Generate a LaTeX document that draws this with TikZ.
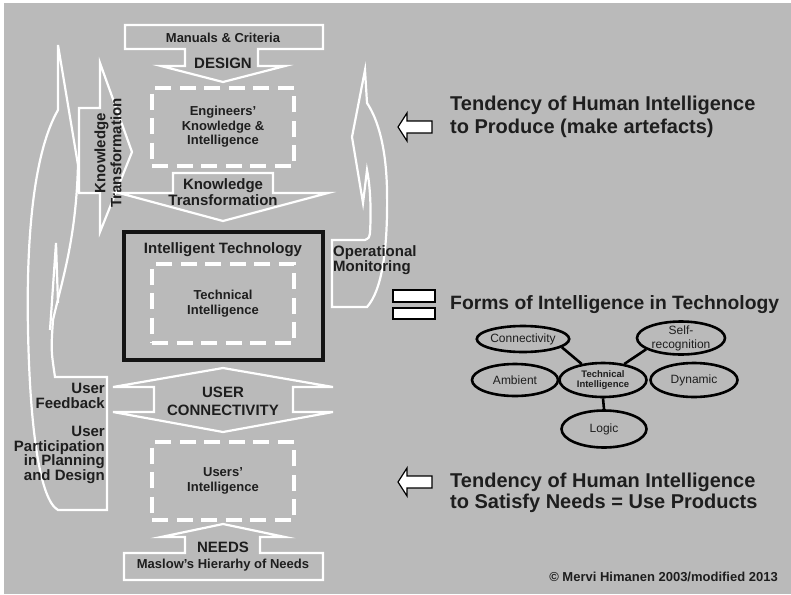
\documentclass[tikz,border=0pt]{standalone}
\usepackage{fontspec}
\setmainfont{Liberation Sans}
\usetikzlibrary{shapes.geometric}
\definecolor{bg}{HTML}{BABABA}
\definecolor{ink}{HTML}{1E1E1E}
\begin{document}
\begin{tikzpicture}[x=1pt,y=-1pt,
  band/.style={draw=white,line width=2.2pt,fill=bg,line join=miter},
  thinline/.style={draw=white,line width=2.2pt},
  dashbox/.style={draw=white,line width=3.2pt,dash pattern=on 16pt off 8.5pt,
    text=ink,font=\bfseries\fontsize{13}{14.5}\selectfont,align=center,inner sep=0pt},
  lbl/.style={text=ink,font=\bfseries\fontsize{15}{16}\selectfont,align=center,inner sep=0pt},
  small/.style={text=ink,font=\bfseries\fontsize{13}{14.5}\selectfont,align=center,inner sep=0pt},
  big/.style={text=ink,font=\bfseries\fontsize{20}{23}\selectfont,align=left,inner sep=0pt,anchor=west},
  oval/.style={ellipse,draw=black,line width=2.6pt,inner sep=0pt,text=ink,
    font=\fontsize{12}{14}\selectfont,align=center},
  hint/.style={draw=black,line width=1.2pt,fill=white,line join=miter},
  link/.style={draw=black,line width=2.6pt},
]
% canvas
\fill[white] (0,0) rectangle (791,594);
\fill[bg] (4,3) rectangle (791,594);
\useasboundingbox (0,0) rectangle (791,594);

% curved feedback band on the left
\draw[band] (58,45) -- (58,110) .. controls (35,150) and (26,230) .. (28,330)
  .. controls (30,430) and (40,500) .. (58,510) -- (107,510) -- (107,377) -- (55,377)
  .. controls (51,350) .. (53,320) .. controls (62,280) and (76,240) .. (78,165) -- cycle;
\draw[thinline] (50,330) -- (56,243) -- (58,303);

% curved monitoring band on the right
\draw[band] (365,70) -- (352,137) -- (363,203) -- (367,170)
  .. controls (371,190) and (371,215) .. (370,233) .. controls (369,238) .. (365,240)
  -- (332,240) -- (332,307) -- (367,307) .. controls (382,290) and (388,250) .. (387,190)
  .. controls (386,140) and (375,115) .. (367,103) -- cycle;

% knowledge transformation, pointing right
\draw[band] (79,108) -- (100,108) -- (100,63) -- (132,152) -- (100,232) -- (100,193) -- (79,193) -- cycle;
\node[lbl,rotate=90] (ktside) at (108,153) {Knowledge\\Transformation};

% design arrow
\draw[band] (125,25) -- (323,25) -- (323,49) -- (258,49) -- (258,66) -- (285,66) -- (223,82)
  -- (161,66) -- (185,66) -- (185,49) -- (125,49) -- cycle;
\node[small] (manuals) at (223,38) {Manuals \& Criteria};
\node[lbl] (design) at (223,63) {DESIGN};

% engineers
\node[dashbox,minimum width=142pt,minimum height=78pt] (eng) at (223,127)
  {Engineers’\\Knowledge \&\\Intelligence};

% knowledge transformation, pointing down
\draw[band] (173,173) -- (273,173) -- (273,193) -- (328,193) -- (223,221) -- (119,193)
  -- (173,193) -- cycle;
\node[lbl] (kt) at (223,192) {Knowledge\\Transformation};

% intelligent technology
\node[draw=black!92,line width=4pt,minimum width=199pt,minimum height=128pt] (itech) at (223.5,296) {};
\node[lbl] (itechlabel) at (223,250) {Intelligent Technology};
\node[dashbox,minimum width=142pt,minimum height=79pt] (techint) at (223,303.5)
  {Technical\\Intelligence};

% user connectivity
\draw[band] (223,368) -- (333,387) -- (293,387) -- (293,412) -- (333,412) -- (223,432)
  -- (113,412) -- (154,412) -- (154,387) -- (113,387) -- cycle;
\node[lbl,font=\bfseries\fontsize{15}{18}\selectfont] (usercon) at (223,401) {USER\\CONNECTIVITY};

% users
\node[dashbox,minimum width=142pt,minimum height=78pt] (users) at (223,481)
  {Users’\\Intelligence};

% needs arrow
\draw[band] (223,524) -- (285,537) -- (260,537) -- (260,553) -- (323,553) -- (323,580)
  -- (124,580) -- (124,553) -- (185,553) -- (185,537) -- (161,537) -- cycle;
\node[lbl] (needs) at (223,547) {NEEDS};
\node[small] (maslow) at (223,565) {Maslow’s Hierarhy of Needs};

% side labels
\node[lbl,align=left,anchor=west,font=\bfseries\fontsize{15}{15}\selectfont] (opmon) at (333,260.5)
  {Operational\\Monitoring};
\node[lbl,align=right,anchor=east,font=\bfseries\fontsize{15}{15}\selectfont] (feedback) at (105,395.5)
  {User\\Feedback};
\node[lbl,align=right,anchor=east,font=\bfseries\fontsize{15}{14.7}\selectfont] (particip) at (105,455)
  {User\\Participation\\in Planning\\and Design};

% right column
\draw[hint] (432,121) -- (407,121) -- (407,113) -- (398,127) -- (407,141) -- (407,133) -- (432,133) -- cycle;
\node[big] (produce) at (450,116.5) {Tendency of Human Intelligence\\to Produce (make artefacts)};

\draw[hint] (393,290) rectangle (435,302);
\draw[hint] (393,308) rectangle (435,319);
\node[big,font=\bfseries\fontsize{19.3}{22}\selectfont] (forms) at (450,305) {Forms of Intelligence in Technology};

\node[oval,minimum width=86pt,minimum height=26pt] (conn) at (523,339) {Connectivity};
\node[oval,minimum width=88pt,minimum height=33pt,inner sep=-6pt] (self) at (681,338) {Self-\\recognition};
\node[oval,minimum width=86pt,minimum height=32pt] (amb) at (515,380) {Ambient};
\node[oval,minimum width=87pt,minimum height=34pt,font=\bfseries\fontsize{9.5}{10.5}\selectfont] (tech) at (603,380) {Technical\\Intelligence};
\node[oval,minimum width=87pt,minimum height=34pt] (dyn) at (694,380) {Dynamic};
\node[oval,minimum width=85pt,minimum height=37pt] (logic) at (604,429) {Logic};
\draw[link] (conn.-12) -- (tech.143);
\draw[link] (self.198) -- (tech.37);
\draw[link] (tech.south) -- (logic.north);

\draw[hint] (432,476) -- (407,476) -- (407,468) -- (398,482) -- (407,496) -- (407,488) -- (432,488) -- cycle;
\node[big,font=\bfseries\fontsize{20}{21}\selectfont] (satisfy) at (450,492.5) {Tendency of Human Intelligence\\to Satisfy Needs = Use Products};

\node[small,anchor=east] (copy) at (778,577) {© Mervi Himanen 2003/modified 2013};
\end{tikzpicture}
\end{document}
